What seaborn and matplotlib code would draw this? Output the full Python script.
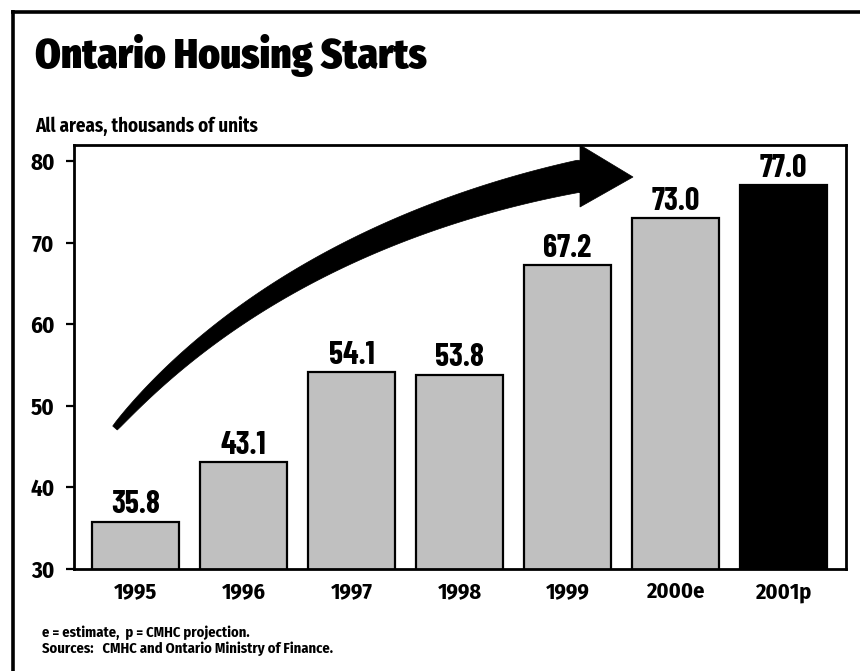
import numpy as np
import pandas as pd
import matplotlib
matplotlib.use("Agg")
import matplotlib.pyplot as plt
import seaborn as sns
from matplotlib.patches import Polygon
from matplotlib.lines import Line2D

# Ontario housing starts, all areas, thousands of units
years = ["1995", "1996", "1997", "1998", "1999", "2000e", "2001p"]
starts = [35.8, 43.1, 54.1, 53.8, 67.2, 73.0, 77.0]
bar_colors = ["#c0c0c0"] * 6 + ["#000000"]
y_ticks = [30, 40, 50, 60, 70, 80]

title = "Ontario Housing Starts"
subtitle = "All areas, thousands of units"
notes = ["e = estimate,  p = CMHC projection.",
         "Sources:   CMHC and Ontario Ministry of Finance."]

sns.set_theme(style="ticks")
plt.rcParams["font.family"] = ["Fira Sans Condensed", "DejaVu Sans"]
plt.rcParams["font.weight"] = "bold"
NUM_FONT = ["Barlow Condensed", "DejaVu Sans"]

W, H = 860, 671
fig = plt.figure(figsize=(W / 100, H / 100), dpi=100)
fig.patch.set_facecolor("white")


def fx(px):
    return px / W


def fy(py):
    return 1 - py / H


ax = fig.add_axes([fx(74), fy(569), (846 - 74) / W, (569 - 145) / H])

df = pd.DataFrame({"year": years, "starts": starts})
sns.barplot(data=df, x="year", y="starts", hue="year", palette=bar_colors,
            legend=False, width=0.805, saturation=1, edgecolor="black",
            linewidth=1.6, ax=ax)

ax.set_ylim(30, 81.96)
ax.set_xlim(-0.57, 6.58)
ax.set_yticks(y_ticks)
ax.set_xlabel("")
ax.set_ylabel("")
for s in ax.spines.values():
    s.set_visible(True)
    s.set_linewidth(2.0)
    s.set_color("black")
ax.tick_params(axis="y", length=6, width=1.6, direction="out", pad=8,
               labelsize=16.5, colors="black")
ax.tick_params(axis="x", length=0, pad=9, labelsize=16, colors="black")
for lab in ax.get_xticklabels() + ax.get_yticklabels():
    lab.set_fontweight("bold")

# value labels above each bar
for i, v in enumerate(starts):
    ax.annotate(f"{v:.1f}", (i, v), xytext=(0, 6), textcoords="offset points",
                ha="center", va="baseline", fontsize=23, fontweight="bold",
                family=NUM_FONT, color="black")

# sweeping growth arrow (tapered curved body with a triangular head)
P = np.array([[115, 428], [245, 278], [430, 206], [580, 176]], float)
t = np.linspace(0, 1, 120)[:, None]
curve = ((1 - t) ** 3 * P[0] + 3 * (1 - t) ** 2 * t * P[1]
         + 3 * (1 - t) * t ** 2 * P[2] + t ** 3 * P[3])
deriv = (3 * (1 - t) ** 2 * (P[1] - P[0]) + 6 * (1 - t) * t * (P[2] - P[1])
         + 3 * t ** 2 * (P[3] - P[2]))
tang = deriv / np.linalg.norm(deriv, axis=1, keepdims=True)
norm = np.column_stack([tang[:, 1], -tang[:, 0]])
half = (6 + 26 * t[:, 0] ** 0.7) / 2
upper = curve + norm * half[:, None]
lower = curve - norm * half[:, None]
if upper[-1, 1] > lower[-1, 1]:
    upper, lower = lower, upper
head = np.array([[580, 145], [633, 177], [580, 207]], float)
outline = np.vstack([upper, [[580, upper[-1, 1]]], head,
                     [[580, lower[-1, 1]]], lower[::-1]])
arrow = Polygon(np.column_stack([fx(outline[:, 0]), fy(outline[:, 1])]),
                closed=True, facecolor="black", edgecolor="black",
                linewidth=0.5, transform=fig.transFigure, zorder=5)
fig.add_artist(arrow)

# page frame (top and left rules)
fig.add_artist(Line2D([fx(11), fx(W)], [fy(11.7), fy(11.7)], color="black",
                      linewidth=2.6, transform=fig.transFigure,
                      solid_capstyle="butt"))
fig.add_artist(Line2D([fx(13), fx(13)], [fy(10), fy(H)], color="black",
                      linewidth=2.6, transform=fig.transFigure,
                      solid_capstyle="butt"))

fig.text(fx(35), fy(68), title, fontsize=29.5, fontweight=900,
         va="baseline", ha="left", color="black")
fig.text(fx(35), fy(132), subtitle, fontsize=13.7, fontweight="bold",
         va="baseline", ha="left", color="black")
fig.text(fx(42), fy(637), notes[0], fontsize=10.5, fontweight="bold",
         va="baseline", ha="left", color="black")
fig.text(fx(42), fy(653), notes[1], fontsize=10.5, fontweight="bold",
         va="baseline", ha="left", color="black")

fig.savefig("out.png", dpi=100, facecolor="white")
